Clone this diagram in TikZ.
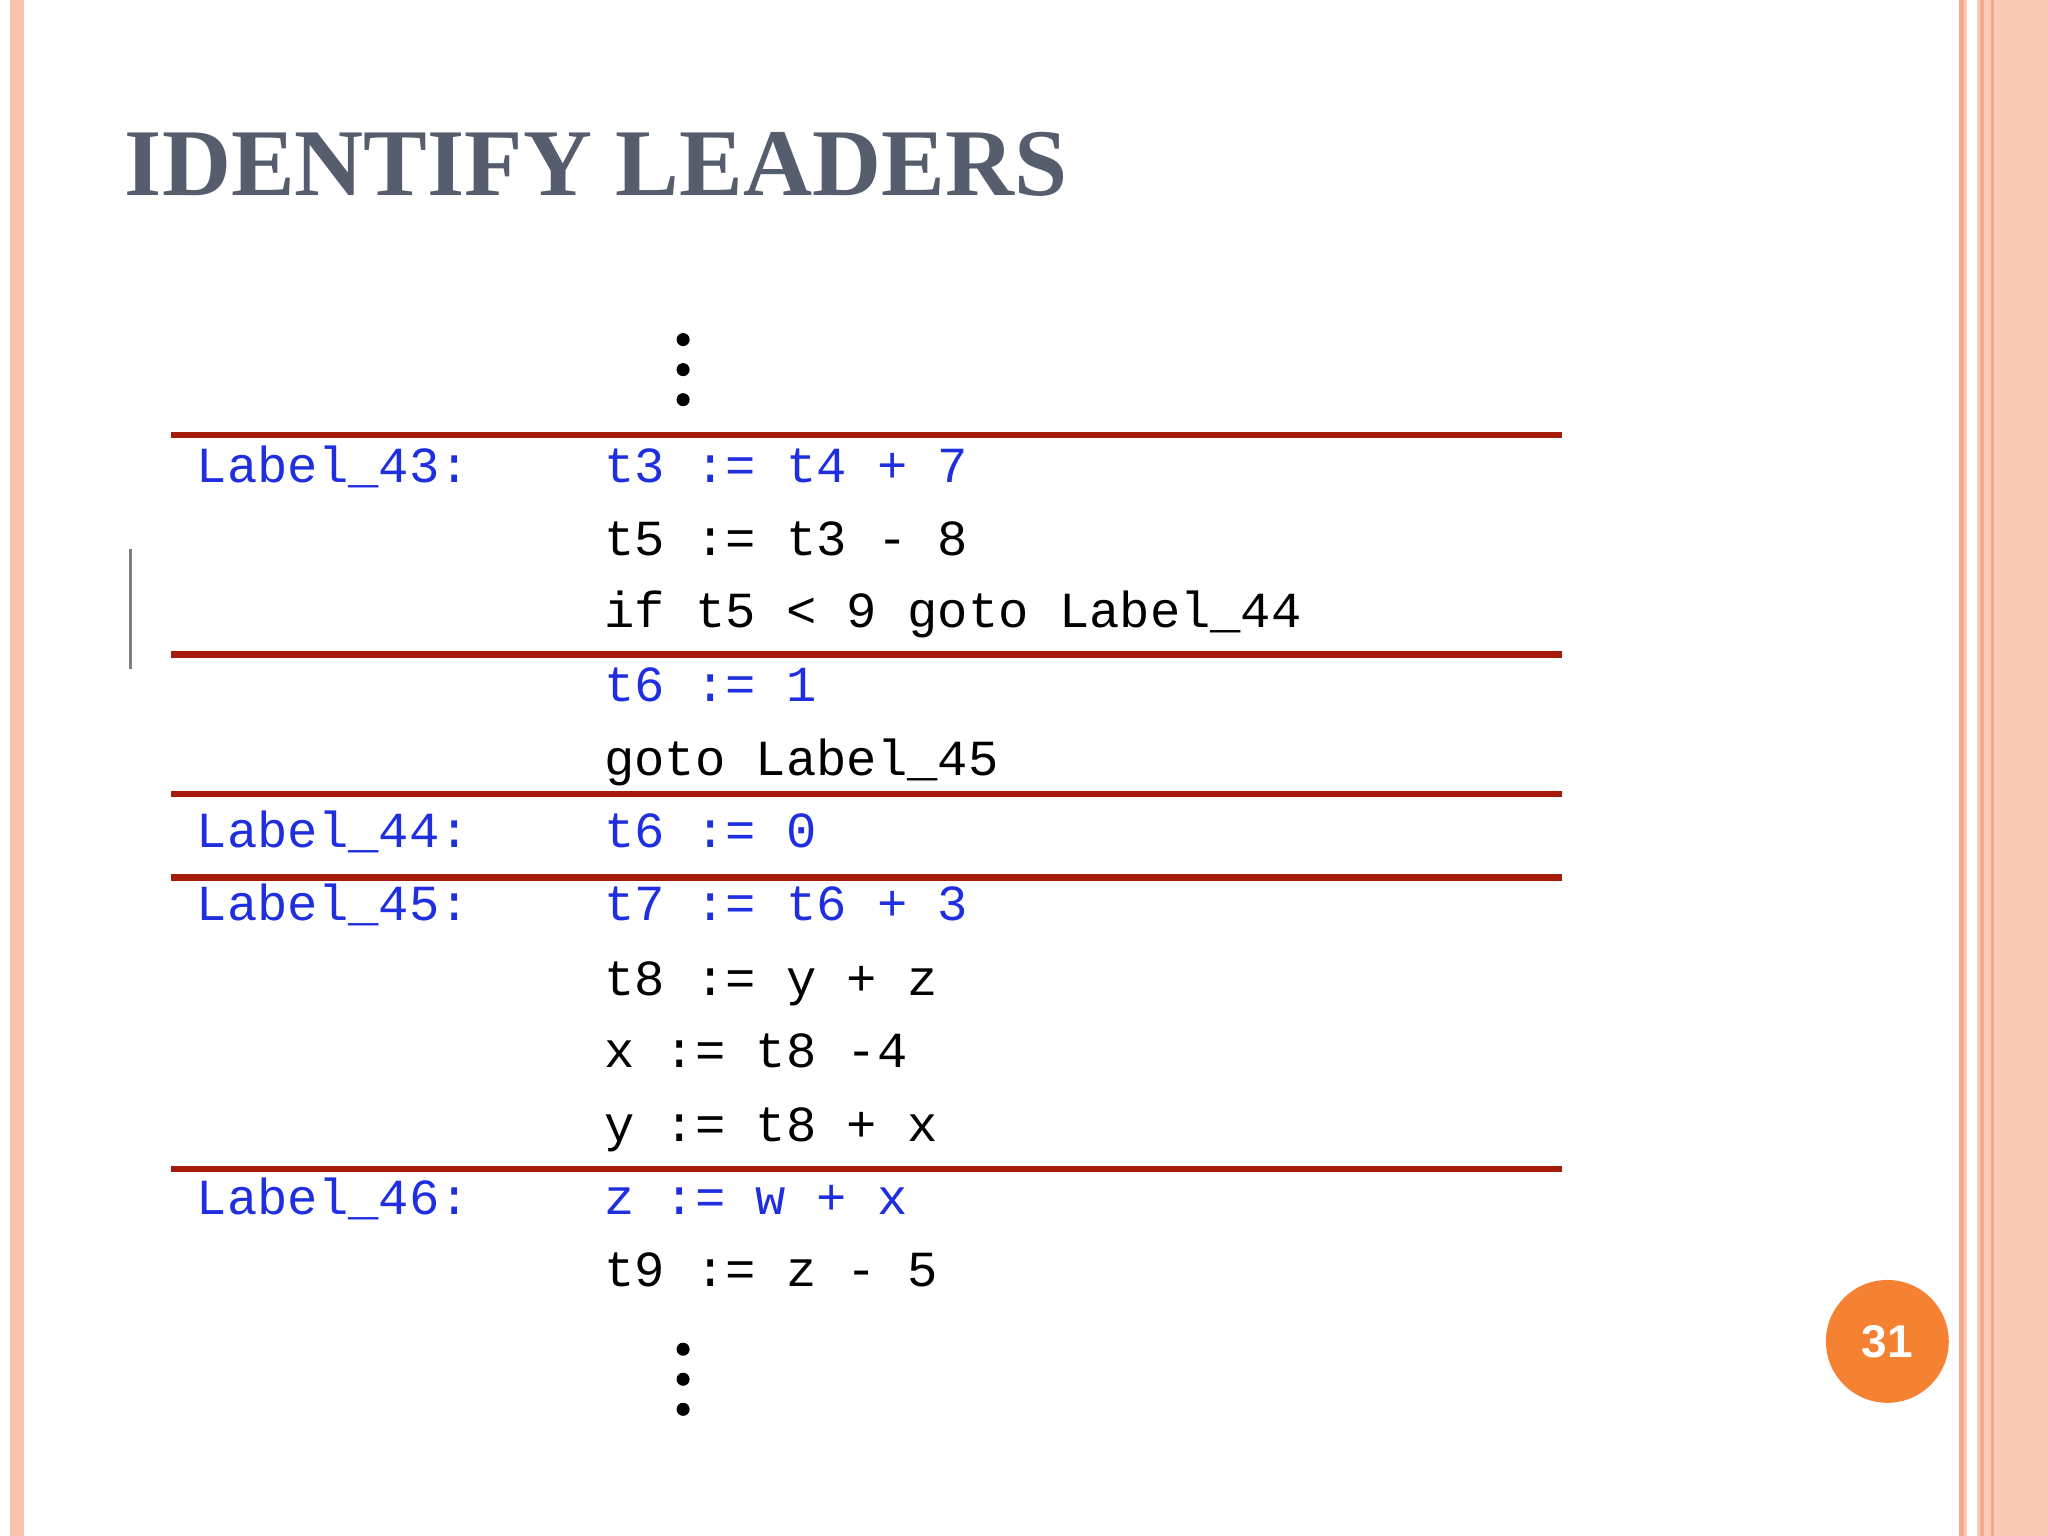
\documentclass[tikz,border=0pt]{standalone}
\usepackage{fontspec}
\setmainfont{Liberation Serif}
\newfontfamily\codefont{Liberation Mono}
\newfontfamily\numfont{Liberation Sans}
\begin{document}
\begin{tikzpicture}[x=0.01cm,y=-0.01cm,
  code/.style={anchor=mid west,inner sep=0pt,font=\codefont\fontsize{11}{13}\selectfont},
  lead/.style={code,text=leadblue},
  sep/.style={draw=sepred,line width=1.4pt},
  dot/.style={fill=black,circle,inner sep=0pt,minimum size=0.1cm}]
\definecolor{leadblue}{HTML}{1F2FE0}
\definecolor{sepred}{HTML}{A51C0C}
\definecolor{titlegray}{HTML}{565E6E}
\definecolor{peach}{HTML}{FCCBB5}
\definecolor{salmon}{HTML}{F4A98A}
\useasboundingbox (0,0) rectangle (1568,1176);
\fill[white] (0,0) rectangle (1568,1176);
\fill[salmon!70] (8,0) rectangle (18,1176);
\fill[peach] (1500,0) rectangle (1568,1176);
\fill[white] (1506,0) rectangle (1514,1176);
\fill[salmon] (1500,0) rectangle (1504,1176);
\fill[salmon] (1516,0) rectangle (1519,1176);
\fill[salmon] (1524,0) rectangle (1527,1176);
\node[anchor=base west,inner sep=0pt,text=titlegray,font=\bfseries\fontsize{20.8}{25}\selectfont] (title) at (95,150) {IDENTIFY LEADERS};
\draw[gray,line width=0.6pt] (100,420) -- (100,512);
% dots
\node[dot] (d1) at (523,260) {}; \node[dot] (d2) at (523,283) {}; \node[dot] (d3) at (523,306) {};
\node[dot] (d4) at (523,1033) {}; \node[dot] (d5) at (523,1056) {}; \node[dot] (d6) at (523,1079) {};
% separators
\foreach \yy in {333,501,608,672,895} \draw[sep] (131,\yy) -- (1196,\yy);
% labels
\node[lead] (l43) at (150,361) {Label\_43:};
\node[lead] (l44) at (150,641) {Label\_44:};
\node[lead] (l45) at (150,697) {Label\_45:};
\node[lead] (l46) at (150,922) {Label\_46:};
% code
\node[lead] (c1) at (462,361) {t3 := t4 + 7};
\node[code] (c2) at (462,417) {t5 := t3 - 8};
\node[code] (c3) at (462,472) {if t5 < 9 goto Label\_44};
\node[lead] (c4) at (462,529) {t6 := 1};
\node[code] (c5) at (462,586) {goto Label\_45};
\node[lead] (c6) at (462,641) {t6 := 0};
\node[lead] (c7) at (462,697) {t7 := t6 + 3};
\node[code] (c8) at (462,754) {t8 := y + z};
\node[code] (c9) at (462,809) {x := t8 -4};
\node[code] (c10) at (462,866) {y := t8 + x};
\node[lead] (c11) at (462,922) {z := w + x};
\node[code] (c12) at (462,977) {t9 := z - 5};
\node[circle,fill={rgb,255:red,245;green,130;blue,51},minimum size=0.94cm,inner sep=0pt,text=white,font=\numfont\bfseries\fontsize{10}{12}\selectfont] (pg) at (1445,1027) {31};
\end{tikzpicture}
\end{document}
